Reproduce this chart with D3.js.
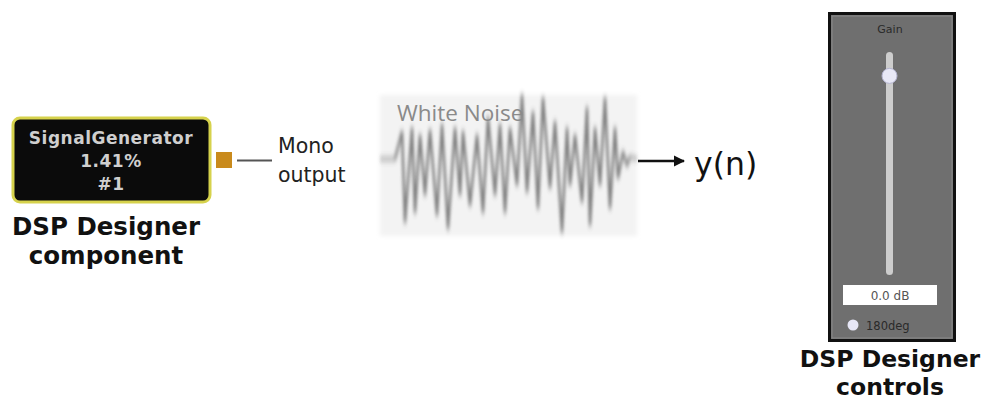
<!DOCTYPE html>
<html>
<head>
<meta charset="utf-8">
<script src="https://d3js.org/d3.v7.min.js"></script>
<style>
  body { margin: 0; background: #fff; }
  text { font-family: "DejaVu Sans", sans-serif; }
</style>
</head>
<body>
<svg width="983" height="400"></svg>
<script>
// labels
var componentLines = ["SignalGenerator", "1.41%", "#1"];
var componentCaption = ["DSP Designer", "component"];
var outputLabel = ["Mono", "output"];
var controlsCaption = ["DSP Designer", "controls"];
var signalName = "White Noise";
var outName = "y(n)";
var gainLabel = "Gain";
var gainValue = 0.0;
var gainRange = [-50, 6];
var phaseLabel = "180deg";

// white noise samples (time in samples, amplitude -1..1)
var noiseT = [0, 15, 22, 25, 32, 35, 40, 45, 50, 57, 62, 68, 75, 80, 83, 90, 97, 103, 108, 115,
              120, 125, 130, 137, 142, 147, 153, 158, 163, 170, 175, 182, 187, 190, 195, 202, 207,
              210, 215, 220, 225, 230, 235, 238, 243, 247, 250, 257];
var noiseA = [0, 0, 0.39, -0.9, 0.44, -0.76, 0.34, -0.51, 0.41, -0.8, 0.49, -0.99, 0.44, -0.51,
              0.39, -0.66, 0.34, -0.76, 0.59, -0.51, 0.49, -0.76, 0.44, -0.37, 0.91, -0.47, 0.67,
              -0.7, 0.87, -0.41, 0.53, -1.04, 0.44, -0.37, 0.34, -0.61, 0.73, -0.94, 0.44, -0.37,
              0.87, -0.7, 0.44, -0.27, 0.1, -0.09, 0.03, 0];

var svg = d3.select("svg");
var defs = svg.append("defs");
defs.append("filter").attr("id", "blur").attr("x", "-20%").attr("y", "-20%")
    .attr("width", "140%").attr("height", "140%")
    .append("feGaussianBlur").attr("stdDeviation", "1.4 3.2");
defs.append("filter").attr("id", "soft")
    .append("feGaussianBlur").attr("stdDeviation", 2);
defs.append("marker").attr("id", "arrow").attr("viewBox", "0 0 10 10")
    .attr("refX", 9).attr("refY", 5).attr("markerWidth", 4.5).attr("markerHeight", 4.5)
    .attr("orient", "auto").attr("markerUnits", "strokeWidth")
    .append("path").attr("d", "M0,0 L10,5 L0,10 z").attr("fill", "#111");

//component block
var comp = svg.append("g");
comp.append("rect").attr("x", 13).attr("y", 118).attr("width", 197).attr("height", 84)
    .attr("rx", 7).attr("fill", "#0b0b0b").attr("stroke", "#d6d24c").attr("stroke-width", 3);
comp.selectAll("text.cl").data(componentLines).enter().append("text")
    .attr("x", 111).attr("y", function(d, i) { return 144 + i * 23; })
    .attr("text-anchor", "middle").style("font-weight", "bold").style("font-size", "17px")
    .style("letter-spacing", "0.5px")
    .style("fill", "#cfcfcf").text(function(d) { return d; });
comp.selectAll("text.cap").data(componentCaption).enter().append("text")
    .attr("x", 106).attr("y", function(d, i) { return 235 + i * 28.5; })
    .attr("text-anchor", "middle").style("font-weight", "bold").style("font-size", "24.5px")
    .style("fill", "#111").text(function(d) { return d; });

// output pin
svg.append("rect").attr("x", 216).attr("y", 152).attr("width", 16).attr("height", 16)
    .attr("fill", "#c98a1c");
svg.append("line").attr("x1", 237).attr("x2", 272).attr("y1", 160.5).attr("y2", 160.5)
    .attr("stroke", "#555").attr("stroke-width", 2);
svg.selectAll("text.out").data(outputLabel).enter().append("text")
    .attr("x", 278).attr("y", function(d, i) { return 153 + i * 29; })
    .style("font-size", "20.5px").style("fill", "#222").text(function(d) { return d; });

// white noise panel
var panel = svg.append("g");
panel.append("rect").attr("x", 380).attr("y", 95).attr("width", 257).attr("height", 141)
    .attr("fill", "#f3f3f3").attr("filter", "url(#soft)");
var xs = d3.scaleLinear().domain([0, 257]).range([380, 637]);
var ys = d3.scaleLinear().domain([-1, 1]).range([229, 89]);
var wave = d3.line().x(function(d, i) { return xs(noiseT[i]); })
                     .y(function(d) { return ys(d); });
panel.append("path").datum(noiseA).attr("d", wave).attr("fill", "none")
    .attr("stroke", "#4a4a4a").attr("stroke-width", 2.4).attr("stroke-linejoin", "round")
    .attr("opacity", 0.7).attr("filter", "url(#blur)");
panel.append("text").attr("x", 397).attr("y", 121).style("font-family", "'Open Sans', sans-serif")
    .style("font-size", "22.5px").style("fill", "#8a8a8a").text(signalName);

// arrow and y(n)
svg.append("line").attr("x1", 638).attr("x2", 684).attr("y1", 161).attr("y2", 161)
    .attr("stroke", "#111").attr("stroke-width", 2.5).attr("marker-end", "url(#arrow)");
svg.append("text").attr("x", 694).attr("y", 175).style("font-size", "31.5px")
    .style("fill", "#111").text(outName);

// controls panel
var ctl = svg.append("g");
ctl.append("rect").attr("x", 829.5).attr("y", 13.5).attr("width", 125).attr("height", 327)
    .attr("fill", "#6f6f6f").attr("stroke", "#111").attr("stroke-width", 3);
ctl.append("rect").attr("x", 832).attr("y", 16).attr("width", 120).attr("height", 322)
    .attr("fill", "none").attr("stroke", "#8a8a8a").attr("stroke-width", 1);
ctl.append("text").attr("x", 890).attr("y", 33).attr("text-anchor", "middle")
    .style("font-size", "11px").style("fill", "#2a2a2a").text(gainLabel);
var gs = d3.scaleLinear().domain(gainRange).range([275, 52]);
ctl.append("rect").attr("x", 886).attr("y", gs(gainRange[1])).attr("width", 7)
    .attr("height", gs(gainRange[0]) - gs(gainRange[1])).attr("rx", 3.5)
    .attr("fill", "#cdcdcd");
ctl.append("circle").attr("cx", 889.5).attr("cy", gs(gainValue)).attr("r", 7.5)
    .attr("fill", "#e8e8f6").attr("stroke", "#b4b4d0").attr("stroke-width", 1);
ctl.append("rect").attr("x", 843).attr("y", 285).attr("width", 94).attr("height", 20)
    .attr("fill", "#fff");
ctl.append("text").attr("x", 890).attr("y", 300).attr("text-anchor", "middle")
    .style("font-size", "12px").style("fill", "#555").text(d3.format(".1f")(gainValue) + " dB");
ctl.append("circle").attr("cx", 853).attr("cy", 325).attr("r", 5.5).attr("fill", "#e6e6f6");
ctl.append("text").attr("x", 866).attr("y", 329.5)
    .style("font-size", "11.5px").style("fill", "#2a2a2a").text(phaseLabel);
ctl.selectAll("text.cap").data(controlsCaption).enter().append("text")
    .attr("x", 890).attr("y", function(d, i) { return 367 + i * 27.5; })
    .attr("text-anchor", "middle").style("font-weight", "bold").style("font-size", "23.5px")
    .style("fill", "#111").text(function(d) { return d; });
</script>
</body>
</html>
